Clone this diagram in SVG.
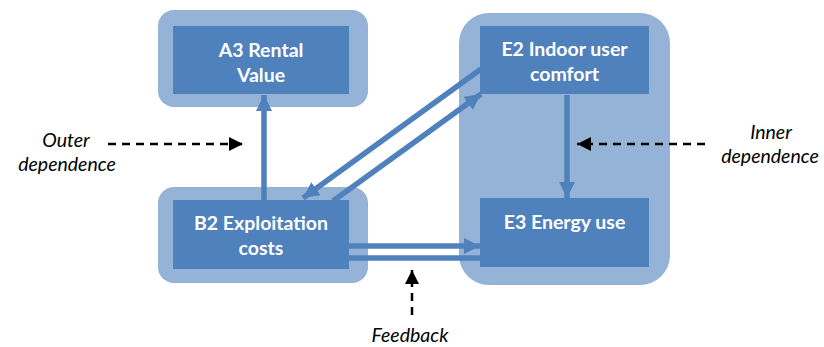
<svg xmlns="http://www.w3.org/2000/svg" width="824" height="347" viewBox="0 0 824 347">
<style>
.outer{fill:#95B3D7}
.box{fill:#4F81BD}
.lbl{fill:#fff;font-family:Lato,"Open Sans",sans-serif;font-weight:bold;font-size:19.5px;text-anchor:middle}
.note{fill:#000;font-family:Lato,"Open Sans",sans-serif;font-style:italic;font-size:19.5px;text-anchor:middle}
.flow{stroke:#4F81BD;stroke-width:5.5;fill:none}
.dash{stroke:#000;stroke-width:2.5;stroke-dasharray:8 6;fill:none}
</style>
<defs>
<marker id="ab" markerUnits="userSpaceOnUse" markerWidth="16" markerHeight="16" viewBox="0 0 16 16" refX="16" refY="8" orient="auto"><path d="M0,0 L16,8 L0,16 Z" fill="#4F81BD"/></marker>
<marker id="ak" markerUnits="userSpaceOnUse" markerWidth="14" markerHeight="14" viewBox="0 0 14 14" refX="14" refY="7" orient="auto"><path d="M0,0 L14,7 L0,14 Z" fill="#000"/></marker>
</defs>
<g id="group-a3"><rect class="outer" x="158" y="10" width="210" height="97" rx="16"/></g>
<g id="group-b2"><rect class="outer" x="158" y="187" width="210" height="96" rx="16"/></g>
<g id="group-e"><rect class="outer" x="459" y="13" width="211" height="272" rx="30"/></g>
<g id="connectors">
<line class="flow" x1="264" y1="200" x2="264" y2="95" marker-end="url(#ab)"/>
<line class="flow" x1="567" y1="95" x2="567" y2="198" marker-end="url(#ab)"/>
<line class="flow" x1="349" y1="246" x2="480" y2="246" marker-end="url(#ab)"/>
<line class="flow" x1="349" y1="258" x2="481" y2="258"/>
<line class="flow" x1="333" y1="201" x2="481" y2="94" marker-end="url(#ab)"/>
<line class="flow" x1="481" y1="69" x2="303" y2="198" marker-end="url(#ab)"/>
<line class="dash" x1="108" y1="144" x2="243" y2="144" marker-end="url(#ak)"/>
<line class="dash" x1="705" y1="144" x2="577" y2="144" marker-end="url(#ak)"/>
<line class="dash" x1="412" y1="315" x2="412" y2="270" marker-end="url(#ak)"/>
</g>
<g id="node-a3"><rect class="box" x="173" y="26" width="176" height="68"/><text class="lbl" x="261" y="57">A3 Rental</text><text class="lbl" x="261" y="82">Value</text></g>
<g id="node-b2"><rect class="box" x="173" y="200" width="176" height="69"/><text class="lbl" x="261" y="230">B2 Exploitation</text><text class="lbl" x="261" y="255">costs</text></g>
<g id="node-e2"><rect class="box" x="480" y="26" width="169" height="68"/><text class="lbl" x="564.5" y="56">E2 Indoor user</text><text class="lbl" x="564.5" y="81">comfort</text></g>
<g id="node-e3"><rect class="box" x="480" y="198" width="169" height="69"/><text class="lbl" x="564.5" y="229">E3 Energy use</text></g>
<g id="notes">
<text class="note" x="66" y="147">Outer</text><text class="note" x="67" y="171">dependence</text>
<text class="note" x="771" y="139">Inner</text><text class="note" x="770" y="163">dependence</text>
<text class="note" x="410" y="342">Feedback</text>
</g>
</svg>
